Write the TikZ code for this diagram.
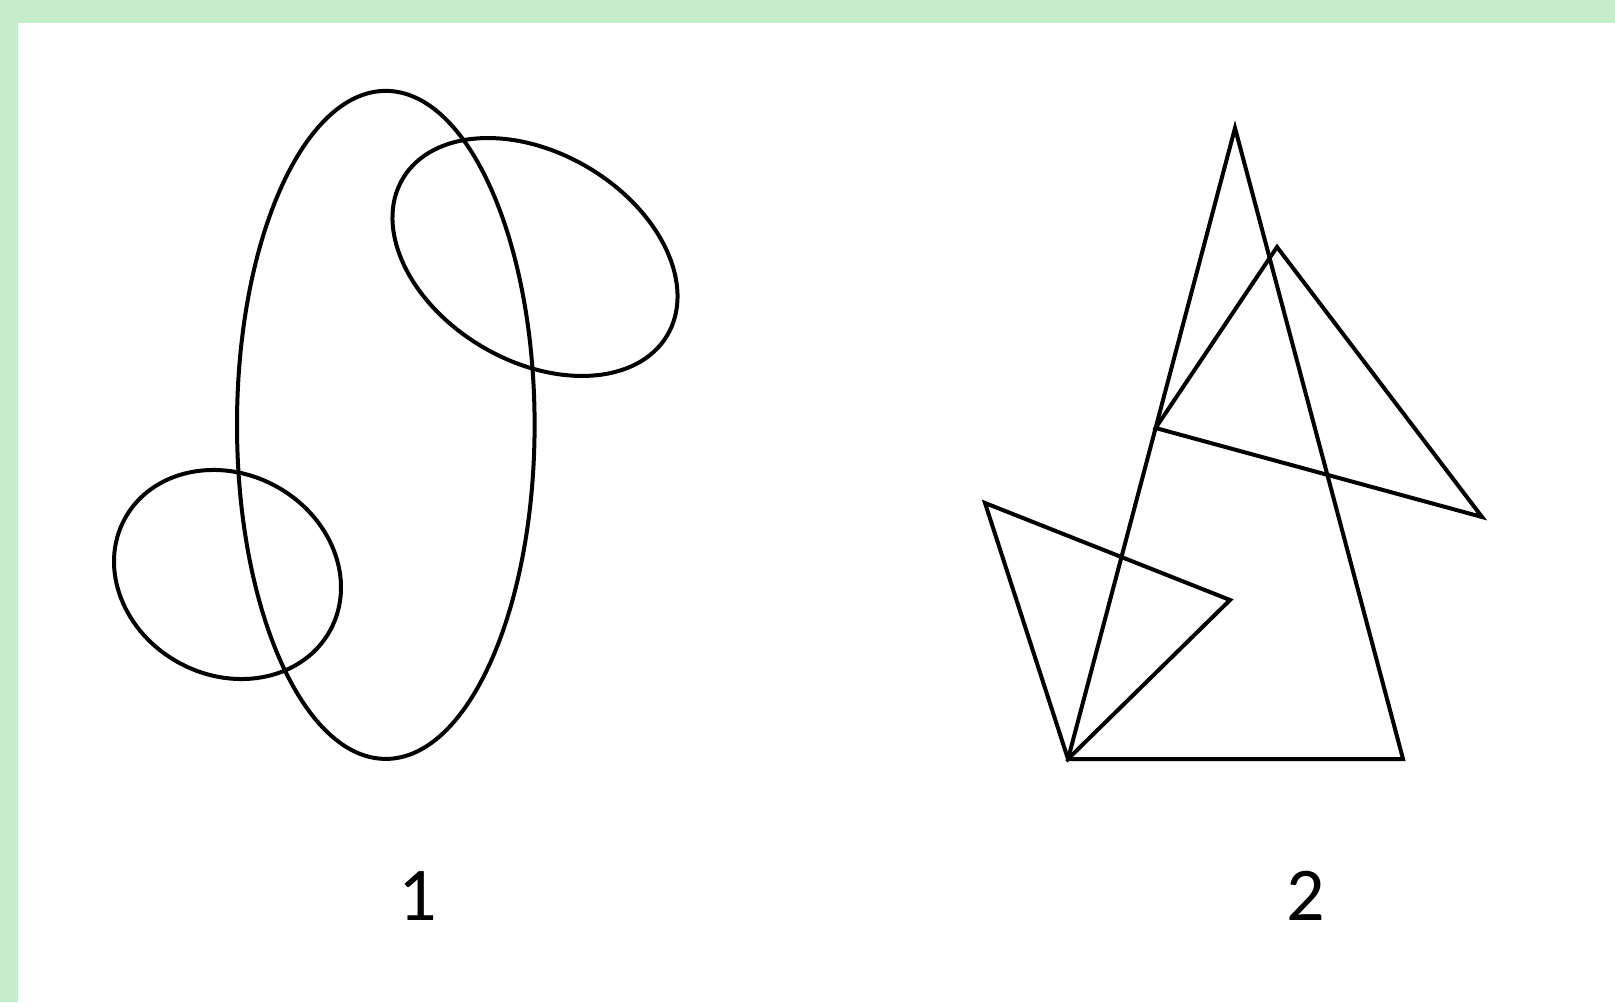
\documentclass[tikz,border=0pt]{standalone}
\usepackage{fontspec}
\setmainfont{Carlito}
\usepackage{tikz}
\usetikzlibrary{positioning}
\definecolor{frameGreen}{RGB}{196,238,203}
\definecolor{ink}{RGB}{0,0,0}
\tikzset{
  outline/.style={draw=ink, line width=2pt},
  figlabel/.style={font=\fontsize{38}{40}\selectfont, inner sep=0pt, text=ink}
}

\begin{document}
\begin{tikzpicture}[x=0.5pt, y=0.5pt]
  \useasboundingbox (0,0) rectangle (1615,1002);
  \fill[frameGreen] (0,0) rectangle (1615,1002);
  \fill[white] (18,0) rectangle (1615,979);

  % figure 1: three ellipses
  \coordinate (bigc) at (385.8,577.1);
  \coordinate (upc) at (535,745);
  \coordinate (lowc) at (227.5,427.5);
  \draw[outline] (bigc) ellipse [x radius=74.4pt, y radius=167pt];
  \draw[outline, rotate around={-30.6:(upc)}] (upc) ellipse [x radius=76.85pt, y radius=52.05pt];
  \draw[outline, rotate around={-28.2:(lowc)}] (lowc) ellipse [x radius=58.45pt, y radius=50.35pt];

  % figure 2: three triangles
  \coordinate (bigtop) at (1235,874);
  \coordinate (bigleft) at (1068,243);
  \coordinate (bigright) at (1403,243);
  \coordinate (midtop) at (1277,755);
  \coordinate (midleft) at (1155.6,574);
  \coordinate (midright) at (1482,485);
  \coordinate (lowtop) at (985,499);
  \coordinate (lowright) at (1230,402);
  \draw[outline] (bigtop) -- (bigleft) -- (bigright) -- cycle;
  \draw[outline] (midtop) -- (midleft) -- (midright) -- cycle;
  \draw[outline] (lowtop) -- (lowright) -- (bigleft) -- cycle;

  \node[figlabel] (one) at (418,106) {1};
  \node[figlabel] (two) at (1306,106) {2};
\end{tikzpicture}
\end{document}
